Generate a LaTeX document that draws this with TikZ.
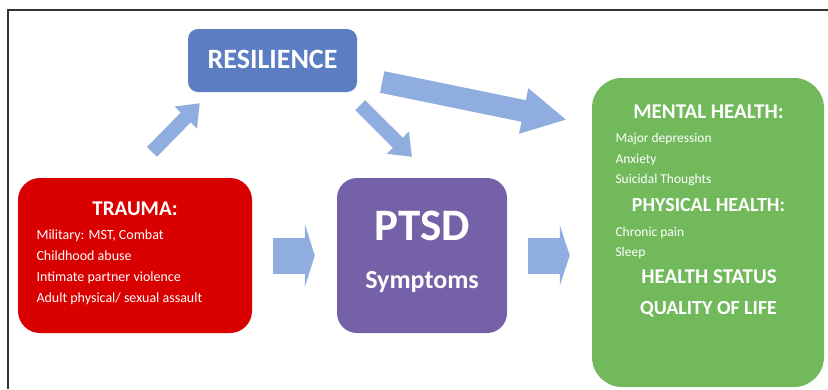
\documentclass[tikz,border=0pt]{standalone}
\usepackage{fontspec}
\setmainfont{Carlito}
\usetikzlibrary{arrows.meta,calc}

\definecolor{traumared}{HTML}{D90000}
\definecolor{resblue}{HTML}{5B7DC2}
\definecolor{arrowblue}{HTML}{8FAEDF}
\definecolor{ptsdpurple}{HTML}{7461A7}
\definecolor{healthgreen}{HTML}{72B95C}

\tikzset{
  panel/.style={inner sep=0pt, rounded corners=20pt},
  head/.style={text=white, anchor=base, font=\bfseries\fontsize{21}{21}\selectfont},
  entry/.style={text=white, anchor=base west, font=\fontsize{14}{14}\selectfont},
  fatarrow/.style={draw=arrowblue, line width=#1}
}

\begin{document}
\begin{tikzpicture}[x=1pt,y=-1pt]
        \useasboundingbox (0,0) rectangle (828,389);
        %% frame
        \draw[line width=2pt, black!80] (8,389) -- (8,10) -- (828,10);
        %% boxes
        \node[panel, fill=resblue, rounded corners=10pt, minimum width=169pt, minimum height=63pt] (resilience) at (272.5,60.5) {};
        \node[panel, fill=traumared, rounded corners=22pt, minimum width=234pt, minimum height=155pt] (trauma) at (135,255.5) {};
        \node[panel, fill=ptsdpurple, minimum width=170pt, minimum height=155pt] (ptsd) at (422,255.5) {};
        \node[panel, fill=healthgreen, rounded corners=30pt, minimum width=232pt, minimum height=309pt] (health) at (708,232.5) {};
        %% resilience
        \node[head, font=\bfseries\fontsize{28}{28}\selectfont] (res-title) at (272.5,68) {RESILIENCE};
        %% trauma
        \node[head] (trauma-title) at (135,215) {TRAUMA:};
        \node[entry] (military) at (33,239) {Military: MST, Combat};
        \node[entry] (childhood) at (33,260) {Childhood abuse};
        \node[entry] (partner) at (33,281) {Intimate partner violence};
        \node[entry] (assault) at (33,302) {Adult physical/ sexual assault};
        %% ptsd
        \node[head, font=\bfseries\fontsize{45}{45}\selectfont] (ptsd-title) at (422,240) {PTSD};
        \node[head, font=\bfseries\fontsize{26}{26}\selectfont] (symptoms) at (422,288) {Symptoms};
        %% outcomes
        \node[head] (mental) at (708.5,118) {MENTAL HEALTH:};
        \node[entry, font=\fontsize{13.5}{13.5}\selectfont] (depression) at (612,142) {Major depression};
        \node[entry, font=\fontsize{13.5}{13.5}\selectfont] (anxiety) at (612,163) {Anxiety};
        \node[entry, font=\fontsize{13.5}{13.5}\selectfont] (suicidal) at (612,183) {Suicidal Thoughts};
        \node[head, font=\bfseries\fontsize{20}{20}\selectfont] (physical) at (708.5,211.5) {PHYSICAL HEALTH:};
        \node[entry, font=\fontsize{13.5}{13.5}\selectfont] (pain) at (612,236) {Chronic pain};
        \node[entry, font=\fontsize{13.5}{13.5}\selectfont] (sleep) at (612,256) {Sleep};
        \node[head] (status) at (709,283.5) {HEALTH STATUS};
        \node[head, font=\bfseries\fontsize{20}{20}\selectfont] (quality) at (708.5,314) {QUALITY OF LIFE};
        %% arrows
        \draw[fatarrow=14pt, -{Triangle[length=20pt,width=30pt]}] ([shift={(17,-26)}]trauma.north) -- ([shift={(12,11)}]resilience.south west);
        \draw[fatarrow=14pt, -{Triangle[length=20pt,width=30pt]}] ([shift={(3,13)}]resilience.south east) -- ([shift={(-10,-21)}]ptsd.north);
        \draw[fatarrow=22pt, -{Triangle[length=44pt,width=43pt]}] ([shift={(25,21.5)}]resilience.east) -- ([shift={(-25,42)}]health.north west);
        \draw[fatarrow=36pt, -{Triangle[length=10pt,width=63pt]}] ([xshift=21pt]trauma.east) -- ([xshift=-22pt]ptsd.west);
        \draw[fatarrow=36pt, -{Triangle[length=10pt,width=60pt]}] ([xshift=21pt]ptsd.east) -- ($(ptsd.east -| health.west)+(-22,0)$);
\end{tikzpicture}
\end{document}
